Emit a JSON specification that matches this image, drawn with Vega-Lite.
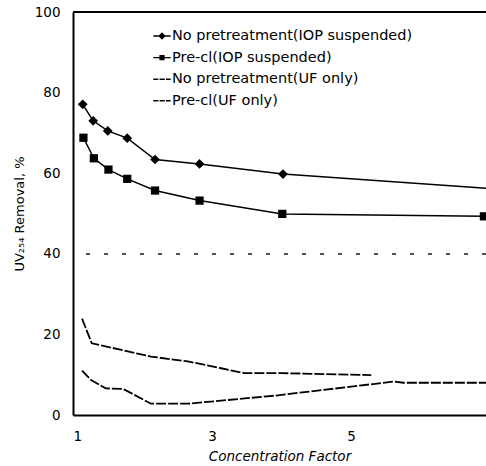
{
  "$schema": "https://vega.github.io/schema/vega-lite/v6.json",
  "width": 413,
  "height": 403,
  "autosize": {"type": "none"},
  "padding": {"left": 73, "top": 12, "right": 0, "bottom": 51},
  "background": "white",
  "config": {
    "view": {"stroke": null},
    "font": "DejaVu Sans",
    "axis": {
      "grid": false,
      "ticks": false,
      "tickSize": 0,
      "domainColor": "black",
      "domainWidth": 2,
      "labelColor": "black",
      "titleColor": "black",
      "labelFont": "DejaVu Sans",
      "titleFont": "DejaVu Sans",
      "labelFontSize": 13.5,
      "titleFontSize": 13,
      "titleFontWeight": "normal"
    }
  },
  "data": {
    "values": [
      {"series": "No pretreatment(IOP suspended)", "cf": 1.14, "removal": 77.1},
      {"series": "No pretreatment(IOP suspended)", "cf": 1.29, "removal": 73.0},
      {"series": "No pretreatment(IOP suspended)", "cf": 1.50, "removal": 70.5},
      {"series": "No pretreatment(IOP suspended)", "cf": 1.78, "removal": 68.7},
      {"series": "No pretreatment(IOP suspended)", "cf": 2.18, "removal": 63.4},
      {"series": "No pretreatment(IOP suspended)", "cf": 2.82, "removal": 62.3},
      {"series": "No pretreatment(IOP suspended)", "cf": 4.02, "removal": 59.8},
      {"series": "No pretreatment(IOP suspended)", "cf": 7.0, "removal": 56.2},
      {"series": "Pre-cl(IOP suspended)", "cf": 1.15, "removal": 68.8},
      {"series": "Pre-cl(IOP suspended)", "cf": 1.30, "removal": 63.7},
      {"series": "Pre-cl(IOP suspended)", "cf": 1.51, "removal": 60.9},
      {"series": "Pre-cl(IOP suspended)", "cf": 1.78, "removal": 58.6},
      {"series": "Pre-cl(IOP suspended)", "cf": 2.18, "removal": 55.7},
      {"series": "Pre-cl(IOP suspended)", "cf": 2.82, "removal": 53.2},
      {"series": "Pre-cl(IOP suspended)", "cf": 4.01, "removal": 49.9},
      {"series": "Pre-cl(IOP suspended)", "cf": 6.91, "removal": 49.3},
      {"series": "No pretreatment(UF only)", "cf": 1.13, "removal": 23.9},
      {"series": "No pretreatment(UF only)", "cf": 1.27, "removal": 17.8},
      {"series": "No pretreatment(UF only)", "cf": 2.12, "removal": 14.5},
      {"series": "No pretreatment(UF only)", "cf": 2.65, "removal": 13.3},
      {"series": "No pretreatment(UF only)", "cf": 3.13, "removal": 11.6},
      {"series": "No pretreatment(UF only)", "cf": 3.46, "removal": 10.4},
      {"series": "No pretreatment(UF only)", "cf": 3.99, "removal": 10.4},
      {"series": "No pretreatment(UF only)", "cf": 5.29, "removal": 9.9},
      {"series": "Pre-cl(UF only)", "cf": 1.13, "removal": 11.0},
      {"series": "Pre-cl(UF only)", "cf": 1.26, "removal": 8.7},
      {"series": "Pre-cl(UF only)", "cf": 1.47, "removal": 6.6},
      {"series": "Pre-cl(UF only)", "cf": 1.72, "removal": 6.5},
      {"series": "Pre-cl(UF only)", "cf": 2.12, "removal": 2.8},
      {"series": "Pre-cl(UF only)", "cf": 2.65, "removal": 2.8},
      {"series": "Pre-cl(UF only)", "cf": 3.9, "removal": 4.8},
      {"series": "Pre-cl(UF only)", "cf": 5.62, "removal": 8.3},
      {"series": "Pre-cl(UF only)", "cf": 5.75, "removal": 8.0},
      {"series": "Pre-cl(UF only)", "cf": 6.95, "removal": 8.0}
    ]
  },
  "encoding": {
    "x": {
      "field": "cf",
      "type": "quantitative",
      "scale": {"domain": [1, 6.94], "nice": false, "zero": false},
      "axis": {
        "title": "Concentration Factor",
        "titleFontStyle": "italic",
        "titleFontSize": 13.5,
        "values": [1, 3, 5],
        "labelPadding": 14,
        "titlePadding": 7
      }
    },
    "y": {
      "field": "removal",
      "type": "quantitative",
      "scale": {"domain": [0, 100], "nice": false},
      "axis": {
        "title": "UV₂₅₄ Removal, %",
        "values": [0, 20, 40, 60, 80, 100],
        "labelPadding": 13,
        "titlePadding": 8
      }
    }
  },
  "layer": [
    {
      "mark": {"type": "rule", "color": "black", "strokeWidth": 1.5},
      "encoding": {"y": {"datum": 100}, "x": null}
    },
    {
      "mark": {"type": "rule", "color": "#555", "strokeWidth": 1, "strokeDash": [4, 14], "opacity": 0.45},
      "encoding": {"y": {"datum": 40}, "x": null}
    },
    {
      "transform": [{"filter": "indexof(datum.series, 'IOP') >= 0"}],
      "mark": {"type": "line", "color": "black", "strokeWidth": 1.5, "clip": true},
      "encoding": {"detail": {"field": "series"}}
    },
    {
      "transform": [{"filter": "indexof(datum.series, 'UF') >= 0"}],
      "mark": {"type": "line", "color": "black", "strokeWidth": 1.8, "strokeDash": [10, 2], "clip": true},
      "encoding": {"detail": {"field": "series"}}
    },
    {
      "transform": [{"filter": "indexof(datum.series, 'IOP') >= 0"}],
      "mark": {"type": "point", "filled": true, "color": "black", "opacity": 1, "clip": true},
      "encoding": {
        "shape": {
          "field": "series",
          "scale": {
            "domain": ["No pretreatment(IOP suspended)", "Pre-cl(IOP suspended)"],
            "range": ["diamond", "square"]
          },
          "legend": null
        },
        "size": {
          "field": "series",
          "type": "nominal",
          "scale": {
            "domain": ["No pretreatment(IOP suspended)", "Pre-cl(IOP suspended)"],
            "range": [95, 68]
          },
          "legend": null
        }
      }
    },
    {
      "transform": [{"filter": "false"}],
      "mark": {"type": "point", "filled": true, "fill": "black", "opacity": 1},
      "encoding": {
        "shape": {
          "field": "series",
          "scale": {
            "domain": ["No pretreatment(IOP suspended)", "Pre-cl(IOP suspended)", "No pretreatment(UF only)", "Pre-cl(UF only)"],
            "range": [
              "M-1,-0.08L1,-0.08L1,0.08L-1,0.08ZM0,-0.42L0.42,0L0,0.42L-0.42,0Z",
              "M-1,-0.08L1,-0.08L1,0.08L-1,0.08ZM-0.3,-0.3L0.3,-0.3L0.3,0.3L-0.3,0.3Z",
              "M-1,-0.08L-0.42,-0.08L-0.42,0.08L-1,0.08ZM-0.28,-0.08L0.32,-0.08L0.32,0.08L-0.28,0.08ZM0.46,-0.08L1,-0.08L1,0.08L0.46,0.08Z",
              "M-1,-0.08L-0.42,-0.08L-0.42,0.08L-1,0.08ZM-0.28,-0.08L0.32,-0.08L0.32,0.08L-0.28,0.08ZM0.46,-0.08L1,-0.08L1,0.08L0.46,0.08Z"
            ]
          },
          "legend": {
            "orient": "none",
            "legendX": 80,
            "legendY": 15,
            "title": null,
            "padding": 0,
            "symbolSize": 300,
            "symbolFillColor": "black",
            "symbolStrokeWidth": 0,
            "labelFont": "DejaVu Sans",
            "labelFontSize": 14.5,
            "labelColor": "black",
            "labelOffset": 1,
            "labelLimit": 400,
            "rowPadding": 5.6
          }
        }
      }
    }
  ],
  "resolve": {"scale": {"shape": "independent", "size": "independent"}, "legend": {"shape": "independent"}}
}
